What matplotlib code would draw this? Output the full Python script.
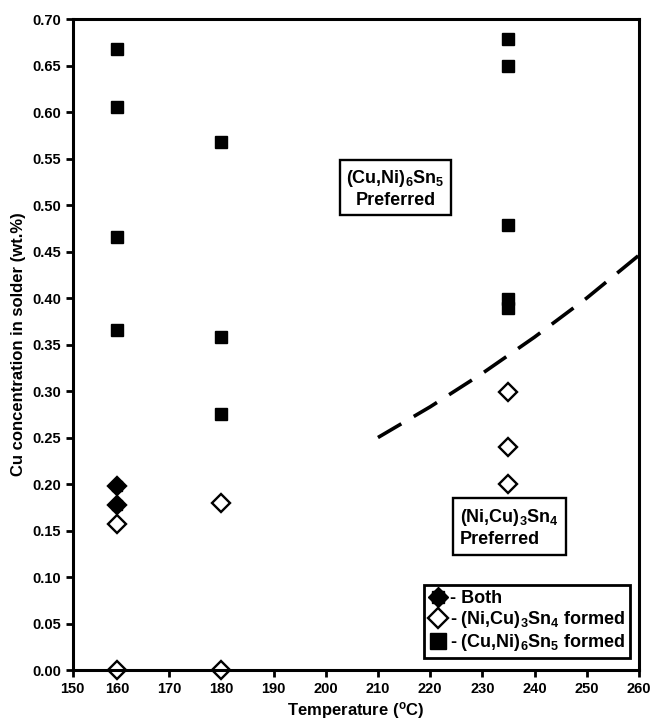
import numpy as np
import matplotlib
matplotlib.use("Agg")
import matplotlib.pyplot as plt
from matplotlib.lines import Line2D

plt.rcParams['font.family'] = ['Liberation Sans', 'DejaVu Sans']
plt.rcParams['font.weight'] = 'bold'
plt.rcParams['mathtext.fontset'] = 'custom'
plt.rcParams['mathtext.rm'] = 'Liberation Sans:bold'
plt.rcParams['mathtext.it'] = 'Liberation Sans:bold'
plt.rcParams['mathtext.bf'] = 'Liberation Sans:bold'

# (Cu,Ni)6Sn5 formed
cu6_temp = [160, 160, 160, 160, 180, 180, 180, 235, 235, 235, 235, 235]
cu6_conc = [0.668, 0.605, 0.466, 0.366, 0.568, 0.358, 0.275, 0.679, 0.649, 0.478, 0.399, 0.389]

# (Ni,Cu)3Sn4 formed
ni3_temp = [160, 160, 180, 180, 235, 235, 235]
ni3_conc = [0.157, 0.0, 0.18, 0.0, 0.299, 0.240, 0.200]

# both phases
both_temp = [160, 160]
both_conc = [0.198, 0.177]

# dashed boundary
bound_temp = [210, 220, 230, 240, 250, 260]
bound_conc = [0.250, 0.283, 0.319, 0.358, 0.400, 0.446]

xticks = [151.5, 160, 170, 180, 190, 200, 210, 220, 230, 240, 250, 260]
xlabels = ['150', '160', '170', '180', '190', '200', '210', '220', '230', '240', '250', '260']
yticks = np.arange(0, 0.701, 0.05)

fig = plt.figure(figsize=(6.54, 7.2), dpi=100)
ax = fig.add_axes([0.111, 0.0694, 0.866, 0.9042])

ax.plot(bound_temp, bound_conc, color='black', lw=2.6, dashes=(7.5, 4))
ax.plot(cu6_temp, cu6_conc, 's', color='black', ms=8.5, ls='none')
ax.plot(ni3_temp, ni3_conc, 'D', mfc='white', mec='black', mew=1.7, ms=9.5, ls='none', clip_on=False)
ax.plot(both_temp, both_conc, 'D', mfc='black', mec='black', mew=1.7, ms=9.5, ls='none')
ax.plot(both_temp, both_conc, 's', mfc='black', mec='black', ms=7.5, ls='none')

ax.set_xlim(151.5, 260)
ax.set_ylim(0, 0.70)
ax.set_xticks(xticks)
ax.set_xticklabels(xlabels)
ax.set_yticks(yticks)
ax.set_yticklabels(['%.2f' % v for v in yticks])
ax.tick_params(direction='out', length=5, width=2, labelsize=10.5)
for s in ax.spines.values():
    s.set_linewidth(2.2)

ax.set_xlabel('Temperature ($^{\\rm o}$C)', fontsize=12, fontweight='bold', labelpad=3)
ax.set_ylabel('Cu concentration in solder (wt.%)', fontsize=12, fontweight='bold', labelpad=4)

ax.text(213.4, 0.518, '(Cu,Ni)$_6$Sn$_5$\nPreferred', ha='center', va='center',
        multialignment='center', fontsize=13,
        bbox=dict(boxstyle='square,pad=0.35', fc='white', ec='black', lw=1.7))
ax.text(235.2, 0.153, '(Ni,Cu)$_3$Sn$_4$\nPreferred', ha='center', va='center',
        multialignment='left', fontsize=13,
        bbox=dict(boxstyle='square,pad=0.4', fc='white', ec='black', lw=1.7))

h_both = (Line2D([], [], marker='D', color='black', ms=10, ls='none'),
          Line2D([], [], marker='s', color='black', ms=8, ls='none'))
h_ni = Line2D([], [], marker='D', mfc='white', mec='black', mew=1.7, ms=10, ls='none')
h_cu = Line2D([], [], marker='s', color='black', ms=11, ls='none')
leg = ax.legend([h_both, h_ni, h_cu],
                ['- Both', '- (Ni,Cu)$_3$Sn$_4$ formed', '- (Cu,Ni)$_6$Sn$_5$ formed'],
                loc='lower right', bbox_to_anchor=(1.0, 0.005), fontsize=13,
                handlelength=1.0, handletextpad=0.2, labelspacing=0.12,
                borderpad=0.25, fancybox=False, framealpha=1, edgecolor='black')
leg.get_frame().set_linewidth(2)

fig.savefig('out.png', dpi=100)
